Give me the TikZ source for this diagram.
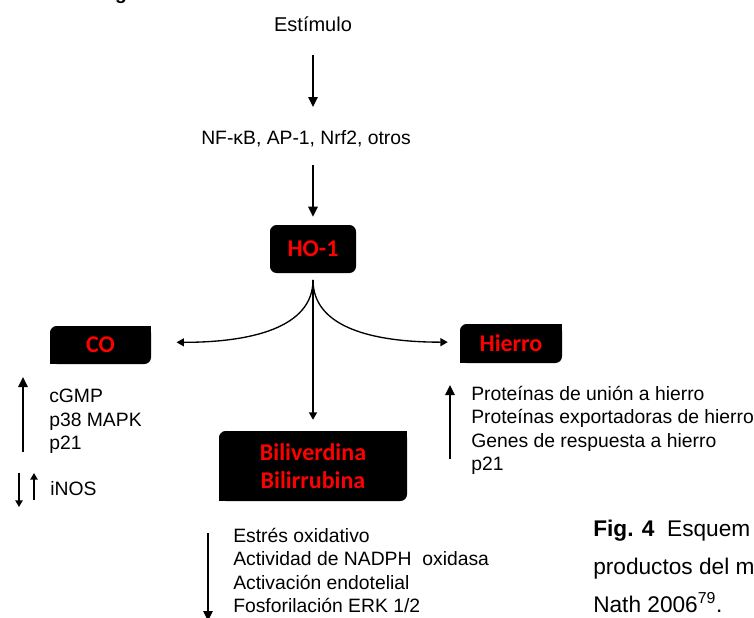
\documentclass[tikz,border=0pt]{standalone}
\usepackage{fontspec}
\setmainfont{Liberation Sans}
\newfontfamily\boxfont{Carlito}
\usetikzlibrary{arrows.meta, backgrounds}

\begin{document}
\begin{tikzpicture}[
    x=0.75pt, y=0.75pt,
    txt/.style={inner sep=0pt, font=\fontsize{14.5}{17.6}\selectfont, align=left},
    captxt/.style={inner sep=0pt, font=\fontsize{17}{20}\selectfont},
    hobox/.style={fill=black, rounded corners=5pt, inner sep=0pt, text=red, align=center, font=\boxfont\bfseries\fontsize{18}{21}\selectfont},
    arrow/.style={-{Triangle[length=7.5pt, width=7pt]}, line width=1.3pt},
    curvearrow/.style={-{Triangle[length=5.5pt, width=6pt]}, line width=1pt},
    smallarrow/.style={-{Triangle[length=5pt, width=5.5pt]}, line width=1.1pt}
]
\useasboundingbox (0,0) rectangle (754,-618);

% cut heading above the figure
\node[inner sep=0pt, anchor=base, font=\fontsize{14.5}{17}\selectfont\bfseries] (frag) at (121,1) {g};

\node[txt, anchor=base, font=\fontsize{15}{18}\selectfont] (estimulo) at (313,-31) {Estímulo};
\node[txt, anchor=base] (nfkb) at (306,-144) {NF-κB, AP-1, Nrf2, otros};

\node[hobox, minimum width=64.5pt, minimum height=36pt] (ho1) at (313,-249) {HO-1};
\node[hobox, minimum width=75.75pt, minimum height=28.5pt] (co) at (100.5,-345) {CO};
\node[hobox, minimum width=76.5pt, minimum height=29.25pt] (hierro) at (511,-343.5) {Hierro};
\node[hobox, minimum width=141pt, minimum height=52.5pt] (bili) at (313,-466) {Biliverdina\\Bilirrubina};

% square corners of the lower boxes
\begin{scope}[on background layer]
\foreach \b in {co, hierro, bili}{
  \fill ([xshift=-6pt, yshift=-6pt]\b.north east) rectangle (\b.north east);
  \fill (\b.south west) rectangle ([xshift=6pt, yshift=6pt]\b.south west);
}
\end{scope}

\draw[arrow] ([yshift=-18pt]estimulo.south) -- ([yshift=17pt]estimulo.south |- nfkb.north);
\draw[arrow] ([yshift=-13.5pt]nfkb.south -| ho1.north) -- ([yshift=6pt]ho1.north);

\draw[curvearrow] ([yshift=-5pt]ho1.south) .. controls +(0,-48) and +(74,0) .. ([xshift=19pt, yshift=2pt]co.east);
\draw[curvearrow] ([yshift=-5pt]ho1.south) .. controls +(0,-48) and +(-74,0) .. ([xshift=-9pt, yshift=1pt]hierro.west);
\draw[curvearrow] ([yshift=-5pt]ho1.south) -- ([yshift=8.25pt]bili.north);

% CO
\node[txt, anchor=north west] (colist) at (49,-389) {cGMP\\p38 MAPK\\p21};
\node[txt, anchor=base west] (inos) at (50,-495) {iNOS};
\coordinate (coup0) at (23,-452);
\coordinate (coup1) at (23,-377);
\draw[arrow] (coup0) -- (coup1);
\coordinate (inosdn0) at (19,-473);
\coordinate (inosdn1) at (19,-507);
\coordinate (inosup0) at (34,-500);
\coordinate (inosup1) at (34,-473);
\draw[smallarrow] (inosdn0) -- (inosdn1);
\draw[smallarrow] (inosup0) -- (inosup1);

% Hierro
\node[txt, anchor=north west] (hierrolist) at (471,-386) {Proteínas de unión a hierro\\Proteínas exportadoras de hierro\\Genes de respuesta a hierro\\p21};
\coordinate (feup0) at (450,-459);
\coordinate (feup1) at (450,-385);
\draw[arrow] (feup0) -- (feup1);

% Biliverdina / Bilirrubina
\node[txt, anchor=north west] (bililist) at (233,-528) {Estrés oxidativo\\Actividad de NADPH~ oxidasa\\Activación endotelial\\Fosforilación ERK 1/2};
\coordinate (bdn0) at (208,-533);
\coordinate (bdn1) at (208,-621);
\draw[arrow] (bdn0) -- (bdn1);

% caption
\node[captxt, anchor=base west] (cap1) at (593,-536) {\textbf{Fig. 4}\ \ Esquem};
\node[captxt, anchor=base west] (cap2) at (593,-574) {productos del m};
\node[captxt, anchor=base west] (cap3) at (593,-612) {Nath 2006\textsuperscript{79}.};

\end{tikzpicture}
\end{document}
